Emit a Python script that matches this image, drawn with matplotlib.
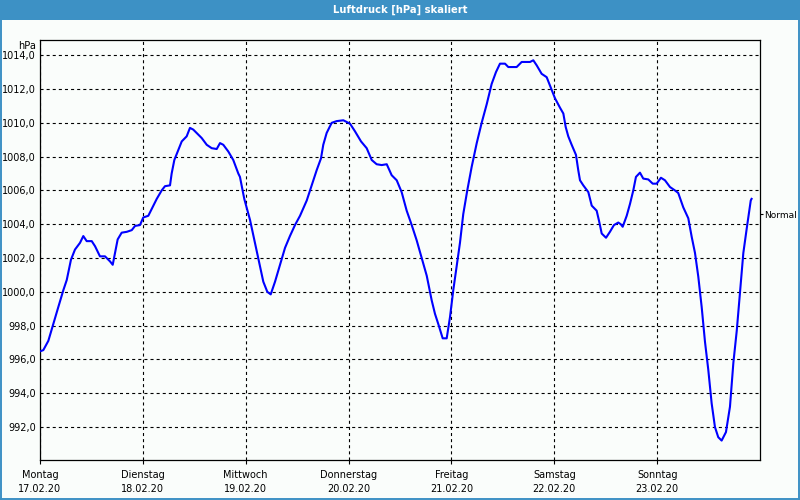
import matplotlib
matplotlib.use("Agg")
import matplotlib.pyplot as plt
from matplotlib.patches import Rectangle
from matplotlib.lines import Line2D

# ---- data ----
title = "Luftdruck [hPa] skaliert"
unit = "hPa"
day_names = ["Montag", "Dienstag", "Mittwoch", "Donnerstag", "Freitag", "Samstag", "Sonntag"]
day_dates = ["17.02.20", "18.02.20", "19.02.20", "20.02.20", "21.02.20", "22.02.20", "23.02.20"]
day_pos = [0, 1, 2, 3, 4, 5, 6]
y_ticks = [992, 994, 996, 998, 1000, 1002, 1004, 1006, 1008, 1010, 1012, 1014]
normal_label = "Normal"
normal_value = 1004.6

t_days = [0.01, 0.032, 0.081, 0.129, 0.178, 0.227, 0.260, 0.301, 0.340, 0.389, 0.421, 0.454,
          0.503, 0.535, 0.583, 0.632, 0.681, 0.707, 0.729, 0.755, 0.794, 0.843, 0.892, 0.924,
          0.972, 1.004, 1.053, 1.086, 1.135, 1.183, 1.215, 1.264, 1.280, 1.306, 1.345, 1.378,
          1.426, 1.458, 1.490, 1.539, 1.572, 1.621, 1.669, 1.718, 1.750, 1.782, 1.831, 1.879,
          1.928, 1.944, 1.986, 2.042, 2.090, 2.139, 2.171, 2.210, 2.243, 2.285, 2.333, 2.382,
          2.430, 2.479, 2.528, 2.593, 2.641, 2.690, 2.732, 2.754, 2.787, 2.836, 2.884, 2.949,
          3.014, 3.062, 3.121, 3.176, 3.225, 3.273, 3.322, 3.371, 3.419, 3.468, 3.516, 3.565,
          3.614, 3.662, 3.711, 3.760, 3.808, 3.840, 3.872, 3.915, 3.954, 3.986, 4.018, 4.051,
          4.083, 4.115, 4.154, 4.197, 4.246, 4.294, 4.343, 4.391, 4.433, 4.472, 4.521, 4.553,
          4.634, 4.683, 4.764, 4.796, 4.829, 4.877, 4.926, 4.965, 5.007, 5.055, 5.088, 5.111,
          5.136, 5.169, 5.211, 5.233, 5.250, 5.282, 5.331, 5.364, 5.412, 5.435, 5.461, 5.503,
          5.541, 5.580, 5.622, 5.646, 5.665, 5.704, 5.736, 5.768, 5.794, 5.833, 5.865, 5.914,
          5.957, 5.995, 6.037, 6.076, 6.125, 6.173, 6.205, 6.254, 6.303, 6.336, 6.368, 6.400,
          6.433, 6.465, 6.497, 6.530, 6.562, 6.594, 6.627, 6.669, 6.708, 6.741, 6.774, 6.805,
          6.838, 6.871, 6.910, 6.918]
pressure = [996.5, 996.55, 997.1, 998.1, 999.1, 1000.1, 1000.7, 1001.9, 1002.5, 1002.9, 1003.3, 1003.0,
            1003.0, 1002.7, 1002.1, 1002.1, 1001.8, 1001.6, 1002.3, 1003.1, 1003.5, 1003.55, 1003.65, 1003.9,
            1003.95, 1004.4, 1004.5, 1004.9, 1005.5, 1006.0, 1006.25, 1006.3, 1007.0, 1007.8, 1008.4, 1008.9,
            1009.2, 1009.7, 1009.6, 1009.3, 1009.1, 1008.7, 1008.5, 1008.45, 1008.8, 1008.7, 1008.3, 1007.8,
            1007.0, 1006.8, 1005.5, 1004.25, 1002.9, 1001.5, 1000.6, 1000.0, 999.85, 1000.6, 1001.6, 1002.6,
            1003.3, 1003.95, 1004.5, 1005.4, 1006.3, 1007.2, 1007.9, 1008.7, 1009.4, 1010.0, 1010.1, 1010.15,
            1009.95, 1009.5, 1008.9, 1008.5, 1007.8, 1007.55, 1007.5, 1007.55, 1006.9, 1006.6, 1005.9, 1004.8,
            1003.95, 1003.05, 1002.0, 1000.95, 999.5, 998.7, 998.1, 997.25, 997.25, 998.5, 1000.1, 1001.5,
            1002.9, 1004.6, 1006.0, 1007.4, 1008.8, 1010.0, 1011.1, 1012.3, 1013.0, 1013.5, 1013.5, 1013.3,
            1013.3, 1013.6, 1013.6, 1013.7, 1013.4, 1012.9, 1012.7, 1012.1, 1011.45, 1010.9, 1010.55, 1009.75,
            1009.2, 1008.7, 1008.1, 1007.2, 1006.6, 1006.3, 1005.9, 1005.1, 1004.8, 1004.2, 1003.45, 1003.2,
            1003.55, 1003.95, 1004.1, 1004.0, 1003.85, 1004.5, 1005.2, 1006.0, 1006.8, 1007.05, 1006.7, 1006.65,
            1006.4, 1006.4, 1006.75, 1006.6, 1006.2, 1006.0, 1005.85, 1005.0, 1004.35, 1003.25, 1002.3, 1000.9,
            999.1, 997.05, 995.4, 993.4, 992.0, 991.4, 991.2, 991.7, 993.2, 995.8, 997.7, 999.9,
            1002.3, 1003.75, 1005.4, 1005.5]

# ---- style ----
bg = "#fafdfb"
frame_blue = "#3d91c5"
plt.rcParams["font.family"] = ["DejaVu Sans"]
plt.rcParams["lines.scale_dashes"] = False

fig = plt.figure(figsize=(8, 5), dpi=100, facecolor=bg)

# title bar and window frame
fig.patches.append(Rectangle((0, 0.96), 1, 0.04, transform=fig.transFigure,
                             facecolor=frame_blue, edgecolor="none", zorder=0))
for xs, ys in [([0.001, 0.001], [0, 0.96]), ([0.999, 0.999], [0, 0.96]), ([0, 1], [0.002, 0.002])]:
    fig.lines.append(Line2D(xs, ys, transform=fig.transFigure, color=frame_blue, lw=1.4))
fig.text(0.5, 0.98, title, ha="center", va="center", color="white",
         fontsize=7.2, fontweight="bold")

ax = fig.add_axes([0.05, 0.08, 0.90, 0.84])
ax.set_facecolor(bg)
ax.plot(t_days, pressure, color="#0000ff", lw=1.5, zorder=3)

ax.set_xlim(0, 7)
ax.set_ylim(990.05, 1014.9)

ax.set_yticks(y_ticks)
ax.set_yticklabels([f"{v:.1f}".replace(".", ",") for v in y_ticks])
ax.set_xticks(day_pos)
ax.set_xticklabels([f"{n}\n{d}" for n, d in zip(day_names, day_dates)])
for lbl in ax.get_xticklabels():
    lbl.set_linespacing(1.55)

ax.tick_params(axis="y", length=0, pad=3, labelsize=7, colors="black")
ax.tick_params(axis="x", length=3, width=0.8, pad=4, labelsize=7, colors="black")
ax.grid(True, color="black", lw=0.8, linestyle=(0, (2.2, 2.2)))
ax.set_axisbelow(True)
for sp in ax.spines.values():
    sp.set_color("black")
    sp.set_linewidth(0.9)

# right "Normal" marker
ax2 = ax.twinx()
ax2.set_ylim(ax.get_ylim())
ax2.set_yticks([normal_value])
ax2.set_yticklabels([normal_label])
ax2.tick_params(axis="y", length=2, width=0.8, pad=0.8, labelsize=6.5, colors="black")
for sp in ax2.spines.values():
    sp.set_visible(False)

fig.text(0.045, 0.908, unit, ha="right", va="center", fontsize=7)

fig.savefig("out.png", dpi=100, facecolor=bg)
